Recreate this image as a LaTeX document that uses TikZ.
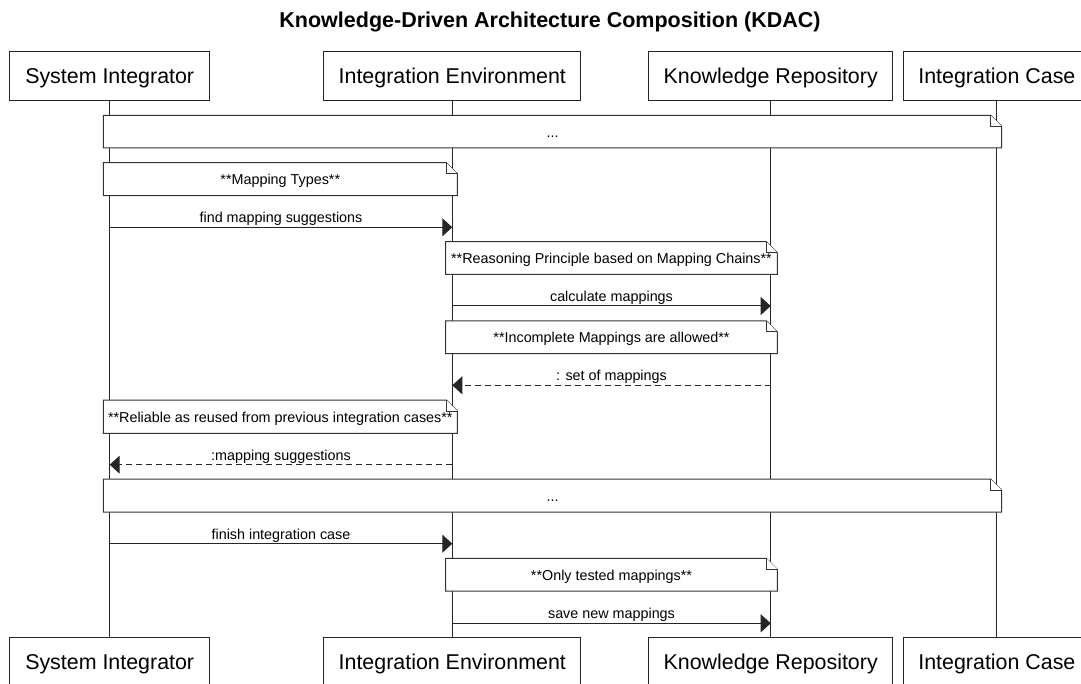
\documentclass[tikz,border=0pt]{standalone}
\usepackage{fontspec}
\setmainfont{Liberation Sans}
\usetikzlibrary{arrows.meta,calc}
\newcommand\umlnote[6]{%
  \draw[notebg] (#1,#2) -- (#3-11,#2) -- (#3,#2+11) -- (#3,#4) -- (#1,#4) -- cycle;
  \draw[notebg] (#3-11,#2) -- (#3-11,#2+11) -- (#3,#2+11);
  \node[small] (#5) at ({(#1+#3)/2},{(#2+#4)/2}) {#6};}
\begin{document}
\begin{tikzpicture}[x=1pt,y=-1pt,
  part/.style={draw=black!85, line width=1pt, fill=white, minimum height=49.3pt,
    inner sep=0pt, text height=15.4pt, text depth=0pt, font=\fontsize{21.4}{24}\selectfont},
  life/.style={line width=1pt, draw=black!85},
  notebg/.style={draw=black!80, line width=1pt, fill=white},
  small/.style={font=\fontsize{14.35}{17}\selectfont, inner sep=0pt, text height=11pt, text depth=0pt},
  lab/.style={small, midway, anchor=base, yshift=4.5pt},
  msg/.style={line width=1pt, draw=black!85, -{Triangle[length=10pt,width=18pt]}},
  reply/.style={msg, dash pattern=on 6pt off 4pt},
]
\useasboundingbox (0,0) rectangle (1081,684);
\clip (0,0) rectangle (1081,684);

\node[font=\bfseries\fontsize{21.5}{24}\selectfont, anchor=base, inner sep=0pt] (title) at (550,27.5)
  {Knowledge-Driven Architecture Composition (KDAC)};

% participants
\node[part, minimum width=200pt]   (sit) at (109.7,76.3) {System Integrator};
\node[part, minimum width=256.7pt] (iet) at (452.3,76.3) {Integration Environment};
\node[part, minimum width=244pt]   (krt) at (770.7,76.3) {Knowledge Repository};
\node[part, minimum width=186.4pt] (ict) at (996.9,76.3) {Integration Case};
\node[part, minimum width=200pt]   (sib) at (109.7,662) {System Integrator};
\node[part, minimum width=256.7pt] (ieb) at (452.3,662) {Integration Environment};
\node[part, minimum width=244pt]   (krb) at (770.7,662) {Knowledge Repository};
\node[part, minimum width=186.4pt] (icb) at (996.9,662) {Integration Case};

% lifelines
\draw[life] (sit.south) -- (sib.north);
\draw[life] (iet.south) -- (ieb.north);
\draw[life] (krt.south) -- (krb.north);
\draw[life] (ict.south) -- (icb.north);

% notes
\umlnote{103.3}{115.3}{1001.7}{148}{n1}{...}
\umlnote{103.3}{162.7}{457.3}{195.7}{n2}{**Mapping Types**}
\umlnote{445.7}{241.7}{777.3}{274.5}{n3}{**Reasoning Principle based on Mapping Chains**}
\umlnote{445.7}{321}{777.3}{353.7}{n4}{**Incomplete Mappings are allowed**}
\umlnote{103.3}{400}{457.3}{433.3}{n5}{**Reliable as reused from previous integration cases**}
\umlnote{103.3}{479}{1001.7}{512}{n6}{...}
\umlnote{445.7}{558.3}{777.3}{591}{n7}{**Only tested mappings**}

% message rows
\coordinate (y1) at (0,227.3);
\coordinate (y2) at (0,306);
\coordinate (y3) at (0,385.3);
\coordinate (y4) at (0,464.7);
\coordinate (y5) at (0,543.7);
\coordinate (y6) at (0,623.3);

\draw[msg]   (sit.south |- y1) -- node[lab] {find mapping suggestions} (iet.south |- y1);
\draw[msg]   (iet.south |- y2) -- node[lab] {calculate mappings} (krt.south |- y2);
\draw[reply] (krt.south |- y3) -- node[lab] {: set of mappings} (iet.south |- y3);
\draw[reply] (iet.south |- y4) -- node[lab] {:mapping suggestions} (sit.south |- y4);
\draw[msg]   (sit.south |- y5) -- node[lab] {finish integration case} (iet.south |- y5);
\draw[msg]   (iet.south |- y6) -- node[lab] {save new mappings} (krt.south |- y6);
\end{tikzpicture}
\end{document}
